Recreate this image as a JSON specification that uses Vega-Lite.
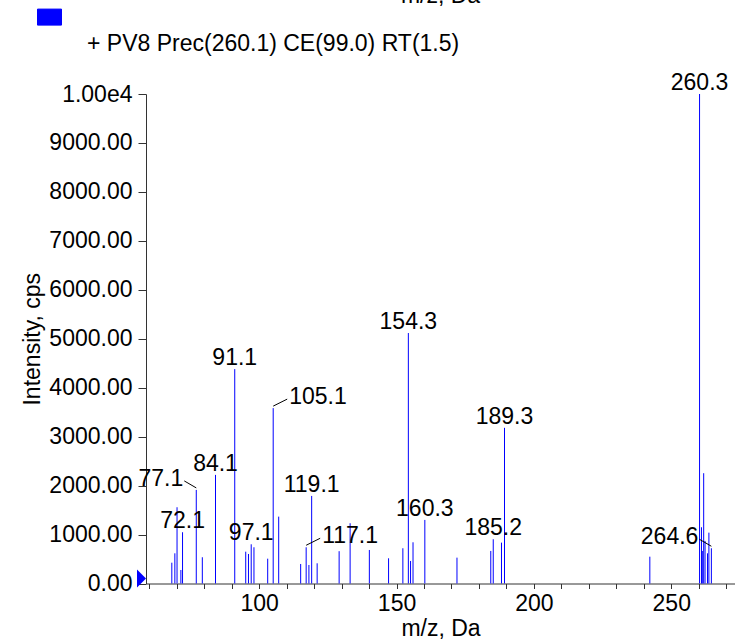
{
  "$schema": "https://vega.github.io/schema/vega-lite/v6.json",
  "width": 589,
  "height": 489.5,
  "autosize": "none",
  "padding": {"left": 146, "top": 94, "right": 0, "bottom": 56.5},
  "background": "white",
  "config": {
    "view": {"stroke": null},
    "font": "Liberation Sans",
    "text": {"font": "Liberation Sans", "fontSize": 23, "color": "black"}
  },
  "title": {
    "text": "m/z, Da",
    "orient": "top",
    "anchor": "middle",
    "offset": 6,
    "font": "Liberation Sans",
    "fontSize": 23,
    "fontWeight": "normal",
    "color": "black",
    "baseline": "alphabetic"
  },
  "resolve": {"axis": {"x": "independent"}},
  "data": {
    "values": [
      {"mz": 68.2, "intensity": 425},
      {"mz": 69.3, "intensity": 617},
      {"mz": 70.1, "intensity": 1558},
      {"mz": 71.5, "intensity": 276},
      {"mz": 72.1, "intensity": 1047, "label": "72.1"},
      {"mz": 77.1, "intensity": 1912, "label": "77.1"},
      {"mz": 79.3, "intensity": 536},
      {"mz": 84.1, "intensity": 2219, "label": "84.1"},
      {"mz": 91.1, "intensity": 4380, "label": "91.1"},
      {"mz": 95.1, "intensity": 650},
      {"mz": 96.1, "intensity": 603},
      {"mz": 97.1, "intensity": 801, "label": "97.1"},
      {"mz": 98.1, "intensity": 740},
      {"mz": 103.1, "intensity": 507},
      {"mz": 105.1, "intensity": 3583, "label": "105.1"},
      {"mz": 107.1, "intensity": 1366},
      {"mz": 115.1, "intensity": 399},
      {"mz": 117.1, "intensity": 740, "label": "117.1"},
      {"mz": 118.1, "intensity": 378},
      {"mz": 119.1, "intensity": 1789, "label": "119.1"},
      {"mz": 121.1, "intensity": 413},
      {"mz": 129.1, "intensity": 660},
      {"mz": 133.1, "intensity": 1231},
      {"mz": 140.1, "intensity": 685},
      {"mz": 147.1, "intensity": 515},
      {"mz": 152.3, "intensity": 720},
      {"mz": 154.3, "intensity": 5117, "label": "154.3"},
      {"mz": 155.1, "intensity": 460},
      {"mz": 156.0, "intensity": 842},
      {"mz": 160.3, "intensity": 1299, "label": "160.3"},
      {"mz": 172.0, "intensity": 528},
      {"mz": 184.3, "intensity": 665},
      {"mz": 185.2, "intensity": 904, "label": "185.2"},
      {"mz": 188.2, "intensity": 835},
      {"mz": 189.3, "intensity": 3180, "label": "189.3"},
      {"mz": 242.2, "intensity": 548},
      {"mz": 260.3, "intensity": 10000, "label": "260.3"},
      {"mz": 261.0, "intensity": 1149},
      {"mz": 261.3, "intensity": 665},
      {"mz": 261.8, "intensity": 2253},
      {"mz": 262.3, "intensity": 869},
      {"mz": 263.2, "intensity": 617},
      {"mz": 263.7, "intensity": 1039},
      {"mz": 264.6, "intensity": 720, "label": "264.6"}
    ]
  },
  "layer": [
    {
      "mark": {"type": "rule", "strokeWidth": 1},
      "encoding": {
        "x": {
          "field": "mz",
          "type": "quantitative",
          "scale": {"domain": [58.8, 273.2], "nice": false, "zero": false},
          "axis": {
            "orient": "bottom",
            "title": "m/z, Da",
            "values": [100, 150, 200, 250],
            "format": "d",
            "tickSize": 5,
            "labelPadding": 4,
            "titlePadding": 2,
            "labelFont": "Liberation Sans",
            "labelFontSize": 23,
            "titleFont": "Liberation Sans",
            "titleFontSize": 23,
            "titleFontWeight": "normal",
            "labelColor": "black",
            "titleColor": "black",
            "domainColor": "#333333",
            "tickColor": "#333333",
            "grid": false,
            "labelOverlap": false,
            "labelFlush": false,
            "labelBound": false
          }
        },
        "y": {
          "field": "intensity",
          "type": "quantitative",
          "scale": {"domain": [0, 10000], "nice": false},
          "axis": {
            "title": "Intensity, cps",
            "values": [0, 500, 1000, 1500, 2000, 2500, 3000, 3500, 4000, 4500, 5000, 5500, 6000, 6500, 7000, 7500, 8000, 8500, 9000, 9500, 10000],
            "labelExpr": "datum.value % 1000 !== 0 ? '' : (datum.value >= 10000 ? '1.00e4' : format(datum.value, '.2f'))",
            "tickSize": {"condition": {"test": "datum.value % 1000 === 0", "value": 8}, "value": 4},
            "labelPadding": 6,
            "titlePadding": 4,
            "labelFont": "Liberation Sans",
            "labelFontSize": 23,
            "titleFont": "Liberation Sans",
            "titleFontSize": 23,
            "titleFontWeight": "normal",
            "labelColor": "black",
            "titleColor": "black",
            "domainColor": "#333333",
            "tickColor": "#333333",
            "grid": false,
            "labelOverlap": false,
            "labelFlush": false,
            "labelBound": false
          }
        },
        "y2": {"datum": 0},
        "color": {
          "datum": "+ PV8 Prec(260.1) CE(99.0) RT(1.5)",
          "type": "nominal",
          "scale": {"range": ["#0000ff"]},
          "legend": {
            "title": null,
            "orient": "none",
            "legendX": -86,
            "legendY": -62,
            "padding": 0,
            "symbolType": "M-4.25,-4.3H-1.25V-2.3H-4.25Z",
            "symbolSize": 256,
            "labelFont": "Liberation Sans",
            "labelFontSize": 23,
            "labelColor": "black",
            "labelLimit": 1000,
            "labelOffset": 4,
            "encode": {
              "symbols": {
                "update": {
                  "fill": {"value": "#0000ff"},
                  "stroke": {"value": "#1a1a66"},
                  "strokeWidth": {"value": 1},
                  "opacity": {"value": 1},
                  "fillOpacity": {"value": 1}
                }
              }
            }
          }
        }
      }
    },
    {
      "transform": [{"filter": {"field": "label", "oneOf": ["72.1", "84.1", "91.1", "97.1", "119.1", "154.3", "160.3", "185.2", "189.3", "260.3"]}}],
      "mark": {"type": "text", "align": "center", "baseline": "alphabetic", "dy": -4, "fontSize": 23, "color": "black"},
      "encoding": {
        "x": {"field": "mz", "type": "quantitative", "axis": null},
        "y": {"field": "intensity", "type": "quantitative"},
        "text": {"field": "label", "type": "nominal"}
      }
    },
    {
      "transform": [{"filter": {"field": "label", "oneOf": ["105.1", "117.1"]}}],
      "mark": {"type": "text", "align": "left", "baseline": "alphabetic", "dx": 16, "dy": -4, "fontSize": 23, "color": "black"},
      "encoding": {
        "x": {"field": "mz", "type": "quantitative", "axis": null},
        "y": {"field": "intensity", "type": "quantitative"},
        "text": {"field": "label", "type": "nominal"}
      }
    },
    {
      "transform": [{"filter": {"field": "label", "oneOf": ["77.1", "264.6"]}}],
      "mark": {"type": "text", "align": "right", "baseline": "alphabetic", "dx": -13, "dy": -4, "fontSize": 23, "color": "black"},
      "encoding": {
        "x": {"field": "mz", "type": "quantitative", "axis": null},
        "y": {"field": "intensity", "type": "quantitative"},
        "text": {"field": "label", "type": "nominal"}
      }
    },
    {
      "transform": [{"filter": {"field": "label", "oneOf": ["105.1", "117.1"]}}],
      "mark": {"type": "rule", "color": "black", "strokeWidth": 1, "yOffset": -2, "x2Offset": 14, "y2Offset": -9},
      "encoding": {
        "x": {"field": "mz", "type": "quantitative", "axis": null},
        "y": {"field": "intensity", "type": "quantitative"},
        "x2": {"field": "mz"},
        "y2": {"field": "intensity"}
      }
    },
    {
      "transform": [{"filter": {"field": "label", "oneOf": ["77.1", "264.6"]}}],
      "mark": {"type": "rule", "color": "black", "strokeWidth": 1, "yOffset": -2, "x2Offset": -12, "y2Offset": -9},
      "encoding": {
        "x": {"field": "mz", "type": "quantitative", "axis": null},
        "y": {"field": "intensity", "type": "quantitative"},
        "x2": {"field": "mz"},
        "y2": {"field": "intensity"}
      }
    },
    {
      "data": {"values": [{"mz": 58.8, "intensity": 0}]},
      "mark": {"type": "point", "shape": "M-1,-1.556L0,-0.556L-1,0.444Z", "size": 324, "filled": true, "color": "#0000ff", "opacity": 1, "strokeWidth": 0},
      "encoding": {
        "x": {
          "field": "mz",
          "type": "quantitative",
          "axis": {
            "orient": "bottom",
            "title": null,
            "labels": false,
            "domain": false,
            "grid": false,
            "tickSize": 5,
            "tickColor": "#333333",
            "values": [60, 70, 80, 90, 110, 120, 130, 140, 160, 170, 180, 190, 210, 220, 230, 240, 260, 270]
          }
        },
        "y": {"field": "intensity", "type": "quantitative"}
      }
    }
  ]
}
